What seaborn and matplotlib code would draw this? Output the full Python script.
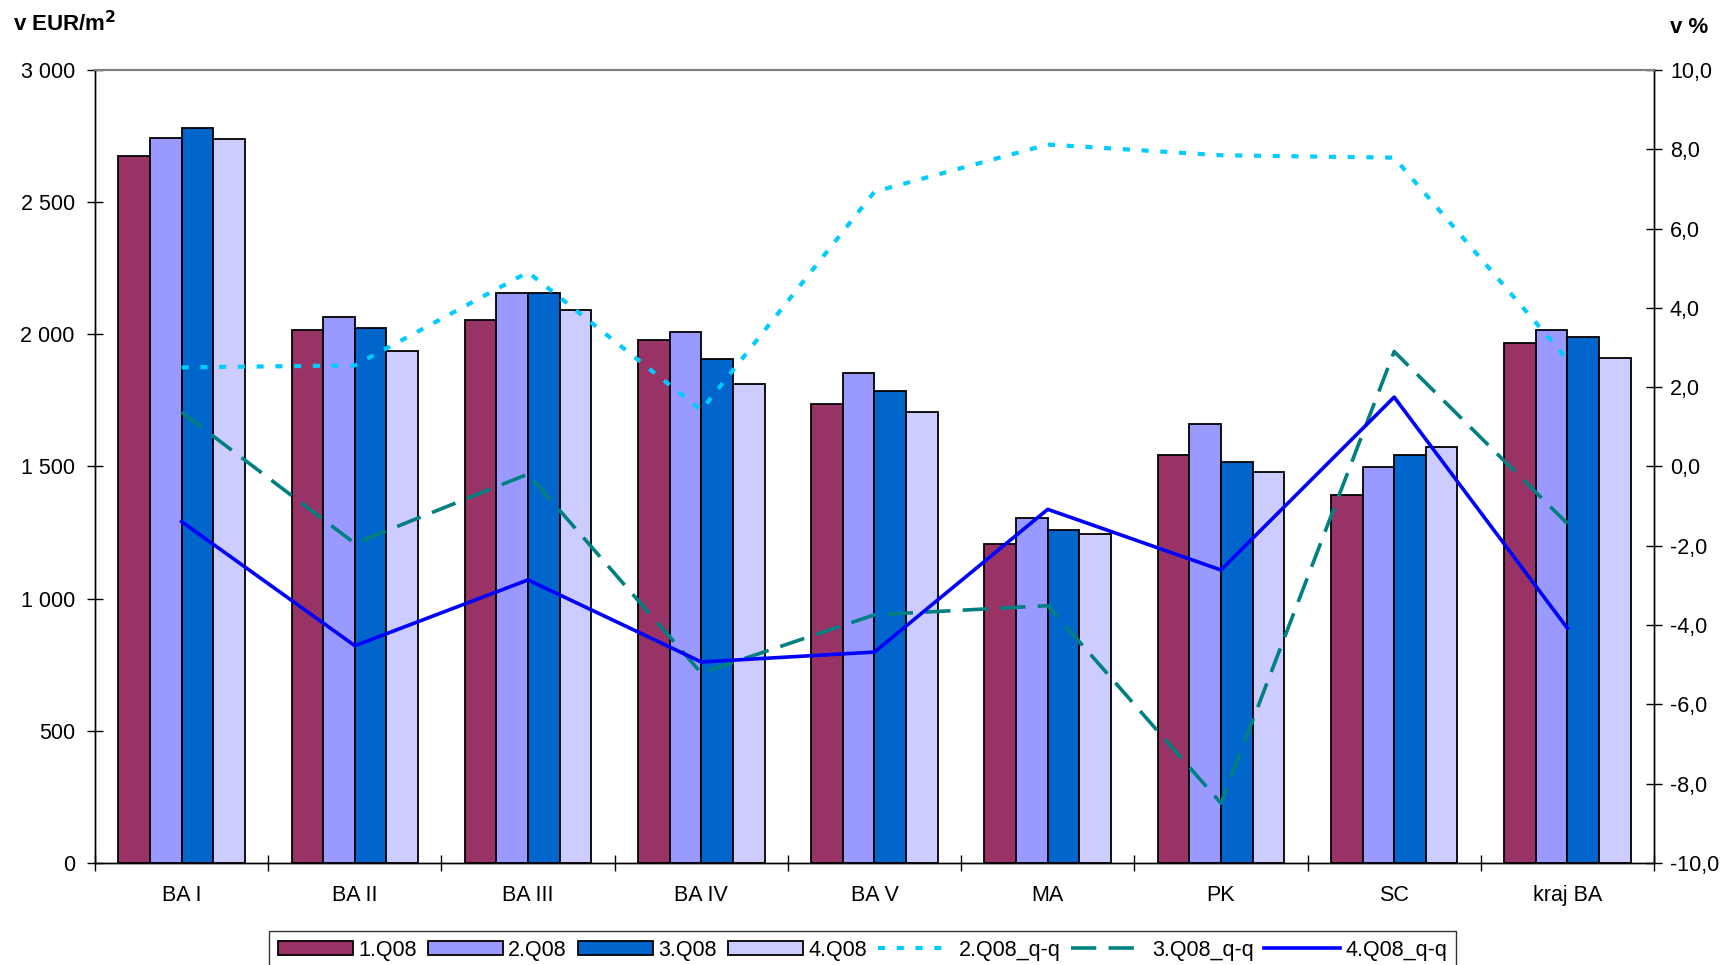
import numpy as np
import pandas as pd
import matplotlib
matplotlib.use("Agg")
import matplotlib.pyplot as plt
import matplotlib.patches as mpatches
import matplotlib.lines as mlines
import seaborn as sns

# Regions and quarters
regions = ["BA I", "BA II", "BA III", "BA IV", "BA V", "MA", "PK", "SC", "kraj BA"]
quarters = ["1.Q08", "2.Q08", "3.Q08", "4.Q08"]

# Average price, EUR per m2
q1_price = [2675, 2017, 2054, 1978, 1735, 1207, 1542, 1391, 1968]
q2_price = [2743, 2067, 2155, 2010, 1855, 1307, 1661, 1498, 2017]
q3_price = [2781, 2023, 2155, 1905, 1787, 1261, 1516, 1542, 1991]
q4_price = [2738, 1937, 2092, 1811, 1705, 1244, 1479, 1574, 1912]

# Quarter-on-quarter change, %
q2_qq = [2.5, 2.55, 4.9, 1.42, 6.93, 8.12, 7.85, 7.79, 2.7]
q3_qq = [1.37, -1.94, -0.19, -5.21, -3.74, -3.51, -8.49, 2.90, -1.44]
q4_qq = [-1.39, -4.52, -2.86, -4.93, -4.68, -1.08, -2.61, 1.75, -4.08]

left_ticks = [0, 500, 1000, 1500, 2000, 2500, 3000]
right_ticks = [-10, -8, -6, -4, -2, 0, 2, 4, 6, 8, 10]

bar_colors = ["#993366", "#9999FF", "#0066CC", "#CCCCFF"]
line_colors = ["#00CCFF", "#008080", "#0000FF"]

plt.rcParams["font.family"] = ["Liberation Sans", "DejaVu Sans"]
FS = 15.5

price_df = pd.DataFrame({
    "region": np.repeat(regions, 4),
    "quarter": quarters * len(regions),
    "price": np.ravel(np.column_stack([q1_price, q2_price, q3_price, q4_price])),
})

fig = plt.figure(figsize=(17.28, 9.65), dpi=100)
ax = fig.add_axes([95 / 1728, 1 - 863 / 965, 1559 / 1728, 793 / 965])

sns.barplot(data=price_df, x="region", y="price", hue="quarter",
            hue_order=quarters, order=regions, palette=bar_colors,
            width=0.73, gap=0, edgecolor="black", linewidth=1.3,
            saturation=1, legend=False, ax=ax, errorbar=None)

ax.set_xlim(-0.5, len(regions) - 0.5)
ax.set_ylim(0, 3000)
ax.set_yticks(left_ticks)
ax.set_yticklabels([f"{v:,}".replace(",", " ") for v in left_ticks], fontsize=FS)
ax.set_xticks(range(len(regions)))
ax.set_xticklabels(regions, fontsize=FS)
ax.set_xticks(np.arange(-0.5, len(regions), 1.0), minor=True)
ax.tick_params(axis="x", which="major", length=0, pad=16)
ax.tick_params(axis="x", which="minor", direction="inout", length=11, width=1)
ax.tick_params(axis="y", which="major", direction="inout", length=11, width=1, pad=9)
ax.set_xlabel("")
ax.set_ylabel("")

# Percentage changes on the secondary axis
ax2 = ax.twinx()
xpos = np.arange(len(regions))
sns.lineplot(x=xpos, y=q2_qq, ax=ax2, color=line_colors[0], linewidth=3.0,
             linestyle=(0, (1.7, 2.8)))
sns.lineplot(x=xpos, y=q3_qq, ax=ax2, color=line_colors[1], linewidth=2.6,
             linestyle=(0, (7, 3.4)))
sns.lineplot(x=xpos, y=q4_qq, ax=ax2, color=line_colors[2], linewidth=2.6)
ax2.set_ylim(-10, 10)
ax2.set_yticks(right_ticks)
ax2.set_yticklabels([f"{v:.1f}".replace(".", ",") for v in right_ticks], fontsize=FS)
ax2.tick_params(axis="y", direction="inout", length=11, width=1, pad=6)
ax2.set_ylabel("")

for a in (ax, ax2):
    a.spines["top"].set_color("#808080")
    a.spines["top"].set_linewidth(1.5)
    for s in ("left", "right", "bottom"):
        a.spines[s].set_color("black")
        a.spines[s].set_linewidth(1.0)

fig.text(13 / 1728, 1 - 31 / 965, r"v EUR/m$^{\mathbf{2}}$", fontsize=16,
         fontweight="bold", ha="left", va="baseline")
fig.text(1708 / 1728, 1 - 33 / 965, "v %", fontsize=16, fontweight="bold",
         ha="right", va="baseline")

handles = [mpatches.Patch(facecolor=c, edgecolor="black", linewidth=1.3) for c in bar_colors]
handles += [
    mlines.Line2D([], [], color=line_colors[0], linewidth=3.0, linestyle=(0, (1.7, 2.8))),
    mlines.Line2D([], [], color=line_colors[1], linewidth=2.6, linestyle=(0, (7, 3.4))),
    mlines.Line2D([], [], color=line_colors[2], linewidth=2.6),
]
labels = quarters + ["2.Q08_q-q", "3.Q08_q-q", "4.Q08_q-q"]
leg = fig.legend(handles, labels, loc="upper center", bbox_to_anchor=(0.499, 1 - 931 / 965),
                 ncol=7, fontsize=FS, frameon=True, fancybox=False, handlelength=3.5,
                 handleheight=0.6, handletextpad=0.25, columnspacing=0.5,
                 borderpad=0.4, borderaxespad=0)
leg.get_frame().set_edgecolor("black")
leg.get_frame().set_linewidth(1.0)

fig.savefig("out.png", dpi=100)
